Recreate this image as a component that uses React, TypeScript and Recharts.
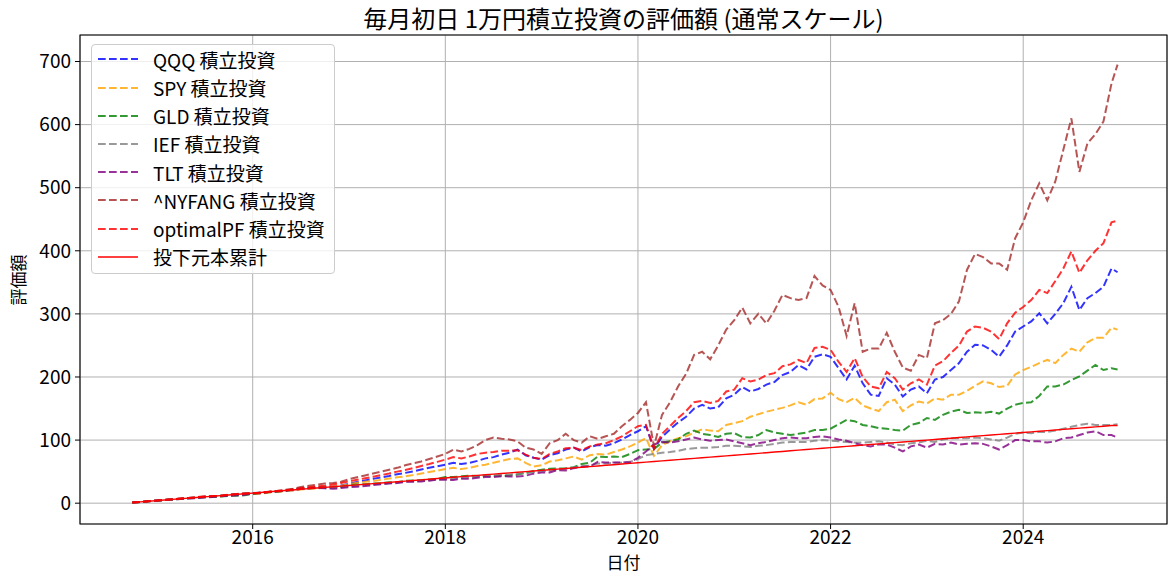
import { LineChart, Line, XAxis, YAxis, CartesianGrid, ReferenceArea } from 'recharts'

const FONT = '"Noto Sans CJK JP", "Noto Sans", sans-serif'

// month starts 2014-10 .. 2024-12, plus the last trading day
const dates: string[] = []
for (let y = 2014; y <= 2024; y++) {
  for (let m = 1; m <= 12; m++) {
    if (y === 2014 && m < 10) continue
    dates.push(`${y}-${String(m).padStart(2, '0')}`)
  }
}
dates.push('2024-12-24')

const xTicks = [2016, 2018, 2020, 2022, 2024]
const yTicks = [0, 100, 200, 300, 400, 500, 600, 700]

// 評価額 (万円), one value per month
const qqq = [
  1, 2.02, 3.0,
  4.0, 5.1, 6.1, 7.1, 8.2, 9.1, 10.3, 10.6, 11.3, 13.0, 14.1, 15.0,
  15.2, 15.7, 17.6, 18.4, 19.6, 20.4, 22.4, 23.6, 24.8, 25.5, 26.5, 28.0,
  31, 33.5, 36, 38.5, 41, 43, 46, 48, 50.5, 53.5, 56, 58.5,
  61, 64, 62, 64, 67, 71, 73, 77, 80, 85, 76, 72,
  69, 76, 79, 85, 88, 82, 89, 92, 91, 95, 101, 108,
  114, 122, 86, 105, 117, 128, 137, 150, 156, 150, 152, 166,
  172, 184, 177, 181, 188, 192, 203, 208, 219, 212, 232, 236,
  232, 214, 196, 218, 190, 172, 170, 198, 188, 169, 180, 185,
  174, 196, 200, 211, 222, 240, 251, 250, 243, 232, 250, 272,
  280, 288, 301, 285, 300, 317, 343, 306, 325, 333, 343, 372,
  366,
]
const spy = [
  1, 2.02, 3.02,
  4.0, 5.1, 6.1, 7.1, 8.1, 9.0, 10.1, 10.4, 10.8, 12.6, 13.6, 14.4,
  14.6, 15.2, 16.9, 17.9, 19.0, 19.9, 21.6, 22.6, 23.6, 24.5, 26.3, 27.8,
  30, 32.3, 33.8, 35.3, 37, 39, 41, 42.5, 44.5, 47, 49.5, 51.5,
  54, 56, 54, 56, 59, 61, 64, 67, 70, 71, 64, 58,
  60, 66, 68, 71, 74, 69, 76, 78, 77, 81, 85, 90,
  96, 103, 75, 92, 98, 103, 106, 112, 117, 115, 114, 124,
  127, 130, 137, 141, 145, 148, 151, 155, 160, 156, 165, 166,
  175, 165, 160, 167, 155, 150, 146, 160, 164, 146, 155, 161,
  158, 166, 164, 172, 172, 178, 186, 193, 190, 184, 186, 204,
  211, 216, 222, 227, 222, 235, 245, 240, 255, 262, 262, 278,
  275,
]
const gld = [
  1, 1.97, 2.95,
  4.0, 4.95, 5.85, 6.8, 7.75, 8.55, 9.2, 9.9, 10.7, 11.6, 11.8, 12.5,
  14.8, 16.5, 17.3, 18.6, 19.5, 21.5, 23.5, 24.2, 25.3, 25.0, 25.0, 25.6,
  28.5, 29.5, 30.0, 31.2, 31.7, 33.0, 33.2, 35.3, 36.0, 36.5, 37.6, 38.4,
  41.5, 41.5, 42.5, 43.5, 43.0, 43.5, 43.5, 43.0, 44.0, 45.5, 48.0, 51.0,
  53, 54.5, 55, 55.5, 57, 62, 64, 74, 73, 74, 73, 78,
  84, 85, 86, 96, 98, 101, 110, 115, 110, 108, 105, 110,
  111, 105, 104, 108, 116, 112, 110, 108, 110, 112, 116, 116,
  118, 125, 132, 130, 124, 122, 119, 118, 116, 115, 124, 127,
  135, 132, 140, 145, 148, 143, 144, 143, 145, 142, 150, 156,
  159, 160, 170, 185, 185, 188, 195, 201, 210, 219, 211, 214,
  212,
]
const ief = [
  1, 2.01, 3.02,
  4.05, 4.98, 6.0, 6.98, 7.95, 8.9, 9.95, 10.95, 12.0, 12.95, 13.9, 14.85,
  16.0, 17.1, 18.0, 19.1, 20.0, 21.3, 22.3, 23.2, 24.2, 24.8, 24.7, 25.6,
  26.7, 27.7, 28.6, 29.9, 30.9, 31.9, 32.8, 34.1, 34.8, 35.7, 36.6, 37.6,
  38.3, 38.9, 40.1, 40.8, 42.0, 43.0, 43.8, 45.0, 45.6, 46.3, 47.6, 49.4,
  50.5, 51.5, 53.5, 54.5, 56.5, 58.5, 59.5, 63, 63, 64, 64.5, 65.5,
  70, 76, 78, 80, 81, 83, 86, 87, 88, 88, 89, 91,
  91, 90, 89, 91, 92, 94, 96, 97, 97, 97, 99, 100,
  99, 98, 97, 96, 96, 97, 98, 96, 93, 92, 95, 96,
  99, 97, 101, 103, 103, 103, 104, 103, 101, 99, 104, 110,
  112, 111, 113, 113, 115, 118, 121, 124, 126, 124, 124, 124,
  125,
]
const tlt = [
  1, 2.02, 3.05,
  4.2, 4.9, 5.9, 6.7, 7.4, 8.0, 9.1, 9.9, 10.9, 11.7, 12.5, 13.4,
  15.5, 16.8, 17.6, 18.6, 19.6, 21.5, 23.2, 23.6, 24.2, 23.5, 22.8, 24.0,
  25.2, 26.2, 27.2, 28.6, 29.8, 31.2, 31.8, 33.8, 34.0, 34.5, 35.7, 37.2,
  37.0, 36.8, 38.8, 38.8, 40.2, 41.4, 41.4, 42.8, 42.4, 42.2, 43.6, 46.8,
  48.5, 48.8, 52.5, 51.7, 55.5, 57.8, 58.2, 65.5, 64.3, 64.5, 64.7, 64.6,
  72, 82, 93, 97, 96, 98, 101, 104, 101, 99, 100, 101,
  98, 95, 92, 95, 97, 100, 103, 104, 103, 103, 105, 106,
  104, 101, 99, 95, 92, 90, 93, 93, 88, 82, 90, 93,
  88, 94, 93, 96, 93, 94, 95, 94, 90, 85, 92, 100,
  100, 98, 98, 96, 98, 103, 104, 108, 112, 114, 108, 108,
  104,
]
const nyfang = [
  1, 2.05, 3.05,
  4.0, 5.2, 6.2, 7.3, 8.4, 9.4, 10.6, 11.2, 11.8, 13.5, 14.6, 15.6,
  15.6, 15.8, 17.8, 19.5, 21, 23, 25.5, 27.5, 29.5, 31, 32, 34,
  38, 41, 44, 47, 50, 53, 56, 60, 63, 66, 70, 74,
  78, 85, 82, 86, 92, 100, 104, 102, 101, 98, 88, 85,
  78, 95, 100, 110, 100, 96, 106, 102, 106, 110, 122, 132,
  143, 160, 90, 140, 160, 185, 205, 235, 240, 228, 250, 275,
  290, 310, 285, 300, 285, 305, 330, 325, 322, 325, 360, 345,
  338, 311, 265, 317, 240, 245, 245, 270, 240, 215, 210, 235,
  230, 285, 290, 300, 320, 370, 395, 390, 380, 380, 370, 420,
  445, 480, 507, 480, 510, 560, 610, 525, 570, 585, 605, 665,
  695,
]
const optimal = [
  1, 2.03, 3.05,
  4.1, 5.2, 6.3, 7.3, 8.4, 9.4, 10.6, 11.0, 11.6, 13.3, 14.4, 15.4,
  15.7, 16.3, 18.0, 19.2, 20.5, 21.8, 23.8, 25.2, 26.6, 27.8, 29.5, 32.0,
  34.5, 37, 39.5, 42, 44.5, 47, 50, 52.5, 55.5, 59, 62, 65.5,
  69, 73, 71, 74, 78, 80, 81, 83, 83, 84, 77, 72,
  70, 78, 82, 87, 88, 84, 90, 93, 95, 100, 106, 114,
  122, 124, 86, 110, 122, 135, 146, 160, 162, 159, 162, 177,
  180, 198, 193, 196, 203, 206, 217, 220, 227, 222, 246, 248,
  243, 224, 208, 230, 200, 185, 182, 208, 198, 180, 190, 196,
  188, 218, 225, 238, 250, 272, 280, 278, 272, 260, 285, 302,
  311, 322, 338, 333, 352, 372, 399, 365, 385, 400, 412, 445,
  448,
]
// 投下元本累計: 1万円 each month
const principal = [
  1, 2, 3,
  4, 5, 6, 7, 8, 9, 10, 11, 12, 13, 14, 15,
  16, 17, 18, 19, 20, 21, 22, 23, 24, 25, 26, 27,
  28, 29, 30, 31, 32, 33, 34, 35, 36, 37, 38, 39,
  40, 41, 42, 43, 44, 45, 46, 47, 48, 49, 50, 51,
  52, 53, 54, 55, 56, 57, 58, 59, 60, 61, 62, 63,
  64, 65, 66, 67, 68, 69, 70, 71, 72, 73, 74, 75,
  76, 77, 78, 79, 80, 81, 82, 83, 84, 85, 86, 87,
  88, 89, 90, 91, 92, 93, 94, 95, 96, 97, 98, 99,
  100, 101, 102, 103, 104, 105, 106, 107, 108, 109, 110, 111,
  112, 113, 114, 115, 116, 117, 118, 119, 120, 121, 122, 123,
  123,
]

const series = [
  { key: 'qqq', name: 'QQQ 積立投資', color: '#0000ff', values: qqq, dashed: true },
  { key: 'spy', name: 'SPY 積立投資', color: '#ffa500', values: spy, dashed: true },
  { key: 'gld', name: 'GLD 積立投資', color: '#008000', values: gld, dashed: true },
  { key: 'ief', name: 'IEF 積立投資', color: '#808080', values: ief, dashed: true },
  { key: 'tlt', name: 'TLT 積立投資', color: '#800080', values: tlt, dashed: true },
  { key: 'nyfang', name: '^NYFANG 積立投資', color: '#a52a2a', values: nyfang, dashed: true },
  { key: 'optimal', name: 'optimalPF 積立投資', color: '#ff0000', values: optimal, dashed: true },
  { key: 'principal', name: '投下元本累計', color: '#ff0000', values: principal, dashed: false },
]

function toYear(d: string) {
  const [y, m, day] = d.split('-').map(Number)
  return y + (m - 1) / 12 + ((day || 1) - 1) / 365
}

const rows = dates.map((d, i) => {
  const row: Record<string, number> = { t: toYear(d) }
  series.forEach((s) => {
    row[s.key] = s.values[i]
  })
  return row
})

const X_DOMAIN: [number, number] = [2014.207, 2025.493]
const Y_DOMAIN: [number, number] = [-33, 742]
const DASH = '7.7 3.3'

function LegendBox() {
  return (
    <div
      style={{
        position: 'absolute',
        left: 91,
        top: 44,
        width: 244,
        height: 230,
        boxSizing: 'border-box',
        background: 'rgba(255,255,255,0.8)',
        border: '1px solid #cccccc',
        borderRadius: 4,
      }}
    >
      {series.map((s, i) => (
        <div
          key={s.key}
          style={{
            position: 'absolute',
            left: 0,
            top: 0.3 + 28.2 * i,
            height: 28,
            width: 244,
            display: 'flex',
            alignItems: 'center',
          }}
        >
          <svg width={60} height={28} style={{ flex: 'none' }}>
            <line
              x1={6}
              x2={46}
              y1={14}
              y2={14}
              stroke={s.color}
              strokeOpacity={s.dashed ? 0.8 : 1}
              strokeWidth={s.dashed ? 2 : 1.4}
              strokeDasharray={s.dashed ? DASH : undefined}
            />
          </svg>
          <span style={{ fontSize: 19, color: '#000', whiteSpace: 'nowrap', marginLeft: 1 }}>{s.name}</span>
        </div>
      ))}
    </div>
  )
}

const tickStyle = { fill: '#000', fontSize: 19, fontFamily: FONT }

export default function App() {
  return (
    <div style={{ position: 'relative', width: 1168, height: 572, fontFamily: FONT, background: '#fff' }}>
      <style>{'body{margin:0}'}</style>
      <LineChart width={1168} height={572} data={rows} margin={{ top: 35, right: 1, bottom: 0, left: 0 }}>
        <CartesianGrid stroke="#b0b0b0" strokeWidth={1} />
        <XAxis
          dataKey="t"
          type="number"
          domain={X_DOMAIN}
          ticks={xTicks}
          allowDataOverflow
          height={48}
          axisLine={false}
          tickLine={{ stroke: '#000' }}
          tickSize={5}
          tickMargin={2}
          tick={tickStyle}
        />
        <YAxis
          type="number"
          domain={Y_DOMAIN}
          ticks={yTicks}
          allowDataOverflow
          width={80}
          axisLine={false}
          tickLine={{ stroke: '#000' }}
          tickSize={5}
          tickMargin={4}
          tick={tickStyle}
        />
        {series.map((s) => (
          <Line
            key={s.key}
            type="linear"
            dataKey={s.key}
            name={s.name}
            stroke={s.color}
            strokeOpacity={s.dashed ? 0.8 : 1}
            strokeWidth={s.dashed ? 2 : 1.4}
            strokeDasharray={s.dashed ? DASH : undefined}
            dot={false}
            activeDot={false}
            isAnimationActive={false}
          />
        ))}
        <ReferenceArea
          x1={X_DOMAIN[0]}
          x2={X_DOMAIN[1]}
          y1={Y_DOMAIN[0]}
          y2={Y_DOMAIN[1]}
          fill="none"
          stroke="#000"
          strokeWidth={1.1}
          ifOverflow="visible"
        />
      </LineChart>
      <div
        style={{
          position: 'absolute',
          left: 80,
          top: 0,
          width: 1087,
          lineHeight: '36px',
          textAlign: 'center',
          fontSize: 24,
          color: '#000',
        }}
      >
        毎月初日 1万円積立投資の評価額 (通常スケール)
      </div>
      <div
        style={{
          position: 'absolute',
          left: 80,
          top: 553,
          width: 1087,
          height: 17,
          lineHeight: '17px',
          textAlign: 'center',
          fontSize: 17,
          color: '#000',
        }}
      >
        日付
      </div>
      <div
        style={{
          position: 'absolute',
          left: 18 - 50,
          top: 280 - 12,
          width: 100,
          lineHeight: '24px',
          textAlign: 'center',
          fontSize: 17,
          color: '#000',
          transform: 'rotate(-90deg)',
        }}
      >
        評価額
      </div>
      <LegendBox />
    </div>
  )
}
